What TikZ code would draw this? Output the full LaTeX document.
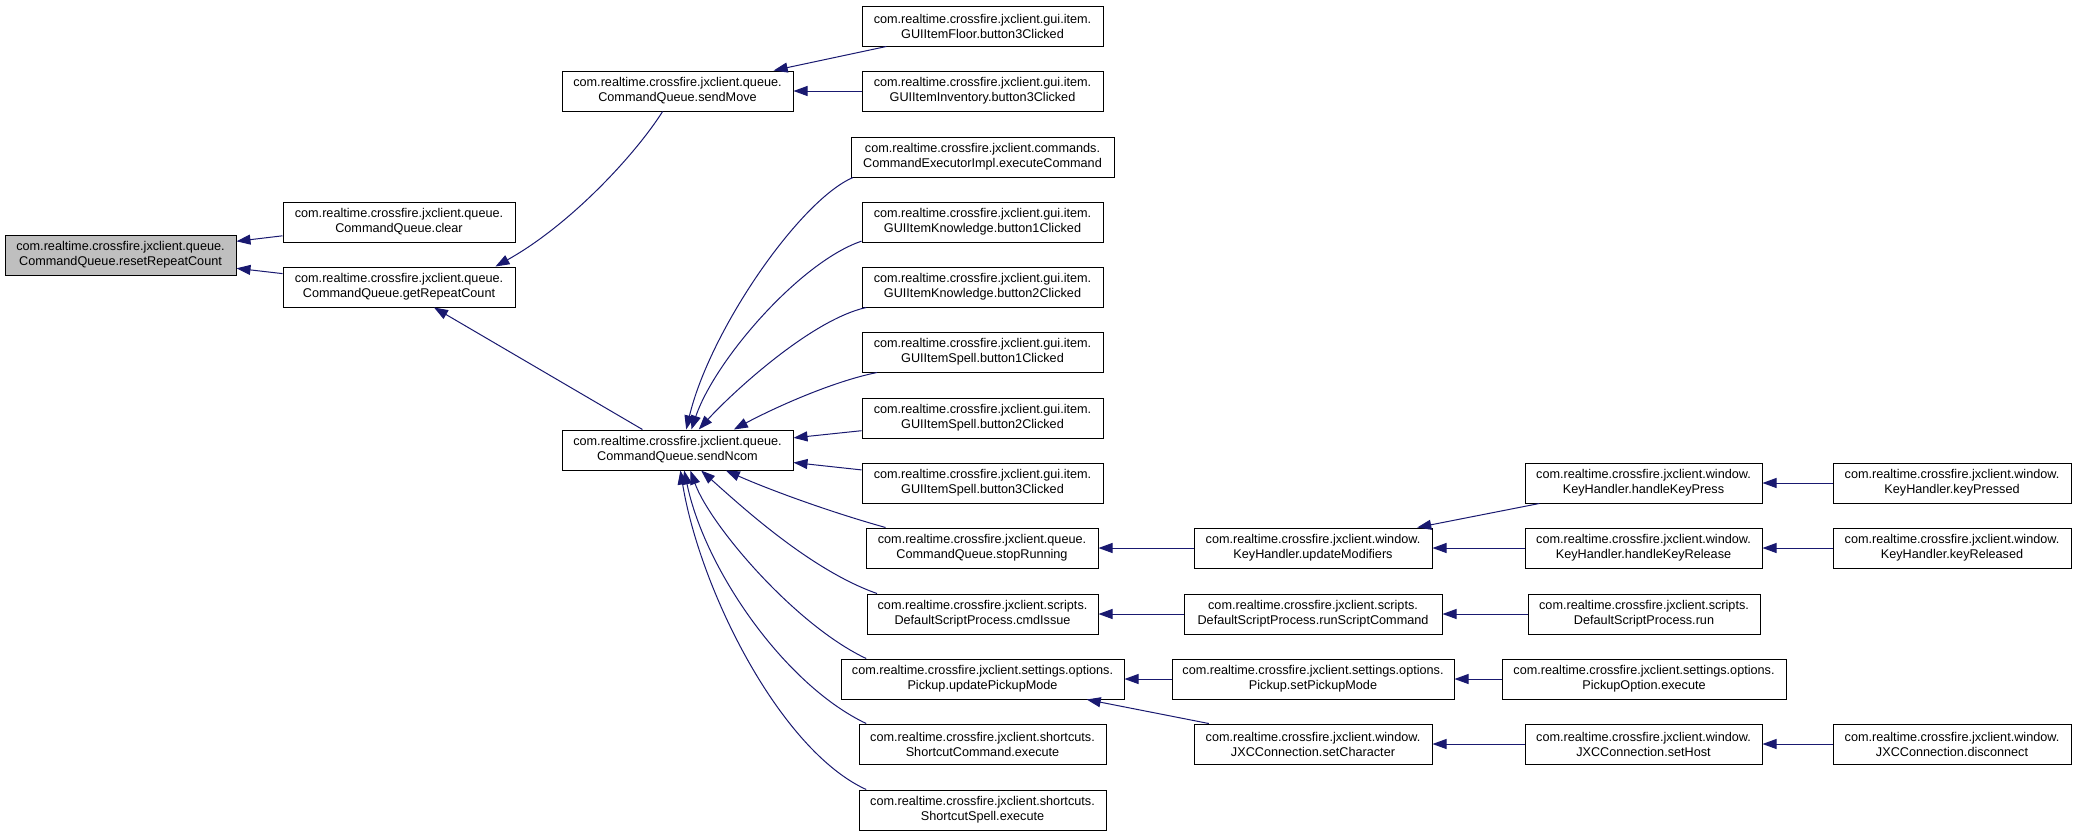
\documentclass[tikz,border=0pt]{standalone}
\usepackage{fontspec}
\setmainfont{Liberation Sans}
\usetikzlibrary{arrows.meta}
\definecolor{edgeblue}{RGB}{25,25,112}
\definecolor{rootgray}{RGB}{191,191,191}
\begin{document}
\begin{tikzpicture}[x=0.75pt,y=-0.75pt,
  box/.style={draw=black, line width=0.75pt, fill=white, minimum width=#1, minimum height=30pt, inner sep=0pt, align=center, font=\fontsize{9.5}{11.25}\selectfont},
  edge/.style={draw=edgeblue, line width=0.75pt, -{Triangle[length=10.5pt,width=7.5pt]}}]
\path[use as bounding box, fill=white] (0,0) rectangle (2076,836);

% column 1-3
\node[box=173.25pt, fill=rootgray] (reset) at (120.5,255) {com.realtime.crossfire.jxclient.queue.\\CommandQueue.resetRepeatCount};
\node[box=174pt] (clear) at (399,222) {com.realtime.crossfire.jxclient.queue.\\CommandQueue.clear};
\node[box=174pt] (getrc) at (399,287) {com.realtime.crossfire.jxclient.queue.\\CommandQueue.getRepeatCount};
\node[box=173.25pt] (sendmove) at (677.5,91) {com.realtime.crossfire.jxclient.queue.\\CommandQueue.sendMove};
\node[box=173.25pt] (sendncom) at (677.5,450) {com.realtime.crossfire.jxclient.queue.\\CommandQueue.sendNcom};

% column 4
\node[box=180.75pt] (floor) at (982.5,26) {com.realtime.crossfire.jxclient.gui.item.\\GUIItemFloor.button3Clicked};
\node[box=180.75pt] (inv) at (982.5,91) {com.realtime.crossfire.jxclient.gui.item.\\GUIItemInventory.button3Clicked};
\node[box=197.25pt] (cei) at (982.5,157) {com.realtime.crossfire.jxclient.commands.\\CommandExecutorImpl.executeCommand};
\node[box=180.75pt] (k1) at (982.5,222) {com.realtime.crossfire.jxclient.gui.item.\\GUIItemKnowledge.button1Clicked};
\node[box=180.75pt] (k2) at (982.5,287) {com.realtime.crossfire.jxclient.gui.item.\\GUIItemKnowledge.button2Clicked};
\node[box=180.75pt] (s1) at (982.5,352) {com.realtime.crossfire.jxclient.gui.item.\\GUIItemSpell.button1Clicked};
\node[box=180.75pt] (s2) at (982.5,418) {com.realtime.crossfire.jxclient.gui.item.\\GUIItemSpell.button2Clicked};
\node[box=180.75pt] (s3) at (982.5,483) {com.realtime.crossfire.jxclient.gui.item.\\GUIItemSpell.button3Clicked};
\node[box=174pt] (stop) at (982,548) {com.realtime.crossfire.jxclient.queue.\\CommandQueue.stopRunning};
\node[box=173.25pt] (cmdissue) at (982.5,614) {com.realtime.crossfire.jxclient.scripts.\\DefaultScriptProcess.cmdIssue};
\node[box=212.25pt] (upm) at (982.5,679) {com.realtime.crossfire.jxclient.settings.options.\\Pickup.updatePickupMode};
\node[box=185.25pt] (sccmd) at (982.5,744) {com.realtime.crossfire.jxclient.shortcuts.\\ShortcutCommand.execute};
\node[box=185.25pt] (scspell) at (982.5,810) {com.realtime.crossfire.jxclient.shortcuts.\\ShortcutSpell.execute};

% column 5
\node[box=178.5pt] (updmod) at (1313,548) {com.realtime.crossfire.jxclient.window.\\KeyHandler.updateModifiers};
\node[box=193.5pt] (runsc) at (1313,614) {com.realtime.crossfire.jxclient.scripts.\\DefaultScriptProcess.runScriptCommand};
\node[box=211.5pt] (setpm) at (1313,679) {com.realtime.crossfire.jxclient.settings.options.\\Pickup.setPickupMode};
\node[box=178.5pt] (setchar) at (1313,744) {com.realtime.crossfire.jxclient.window.\\JXCConnection.setCharacter};

% column 6
\node[box=177.75pt] (hkp) at (1643.5,483) {com.realtime.crossfire.jxclient.window.\\KeyHandler.handleKeyPress};
\node[box=177.75pt] (hkr) at (1643.5,548) {com.realtime.crossfire.jxclient.window.\\KeyHandler.handleKeyRelease};
\node[box=174pt] (run) at (1644,614) {com.realtime.crossfire.jxclient.scripts.\\DefaultScriptProcess.run};
\node[box=213pt] (pickopt) at (1644,679) {com.realtime.crossfire.jxclient.settings.options.\\PickupOption.execute};
\node[box=177.75pt] (sethost) at (1643.5,744) {com.realtime.crossfire.jxclient.window.\\JXCConnection.setHost};

% column 7
\node[box=178.5pt] (keyp) at (1952,483) {com.realtime.crossfire.jxclient.window.\\KeyHandler.keyPressed};
\node[box=178.5pt] (keyr) at (1952,548) {com.realtime.crossfire.jxclient.window.\\KeyHandler.keyReleased};
\node[box=178.5pt] (disc) at (1952,744) {com.realtime.crossfire.jxclient.window.\\JXCConnection.disconnect};

% edges
\draw[edge] (clear) -- (reset);
\draw[edge] (getrc) -- (reset);
\draw[edge] (sendmove.234.1) .. controls (635,155) and (570,225) .. (getrc.12.66);
\draw[edge] (sendncom) -- (getrc);
\draw[edge] (floor) -- (sendmove);
\draw[edge] (inv) -- (sendmove);
\draw[edge] (cei.189.4) .. controls (800,200) and (710,330) .. (sendncom.67);
\draw[edge] (k1.189.5) .. controls (800,262) and (715,360) .. (sendncom.56);
\draw[edge] (k2.190.3) .. controls (810,320) and (730,395) .. (sendncom.44.3);
\draw[edge] (s1.191.6) .. controls (830,382) and (770,410) .. (sendncom.20.9);
\draw[edge] (s2) -- (sendncom);
\draw[edge] (s3) -- (sendncom);
\draw[edge] (stop.168) .. controls (830,512) and (770,490) .. (sendncom.-23.3);
\draw[edge] (cmdissue.169.5) .. controls (810,570) and (740,505) .. (sendncom.-41.6);
\draw[edge] (upm.170.1) .. controls (795,625) and (710,525) .. (sendncom.-58);
\draw[edge] (sccmd.170.5) .. controls (785,685) and (705,570) .. (sendncom.-72);
\draw[edge] (scspell.170.6) .. controls (780,750) and (700,590) .. (sendncom.-82.9);
\draw[edge] (updmod) -- (stop);
\draw[edge] (hkp) -- (updmod);
\draw[edge] (hkr) -- (updmod);
\draw[edge] (keyp) -- (hkp);
\draw[edge] (keyr) -- (hkr);
\draw[edge] (runsc) -- (cmdissue);
\draw[edge] (run) -- (runsc);
\draw[edge] (setpm) -- (upm);
\draw[edge] (pickopt) -- (setpm);
\draw[edge] (setchar) -- (upm);
\draw[edge] (sethost) -- (setchar);
\draw[edge] (disc) -- (sethost);
\end{tikzpicture}
\end{document}
